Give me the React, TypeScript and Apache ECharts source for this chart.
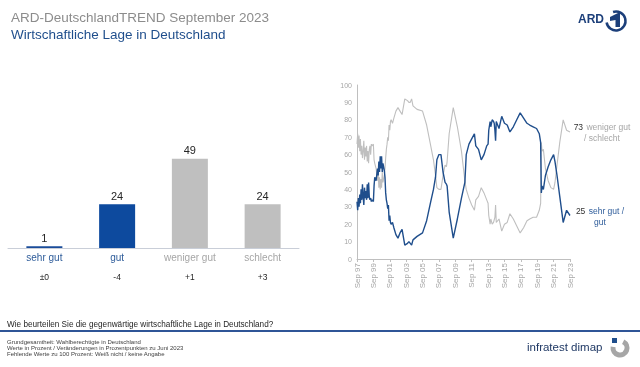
import React, { useEffect, useRef } from "react";
import * as echarts from "echarts";

const barCategories = ["sehr gut", "gut", "weniger gut", "schlecht"];
const barValues = [1, 24, 49, 24];
const barChanges = ["±0", "-4", "+1", "+3"];
const barColors = ["#1A4C9A", "#0D4A9E", "#BFBFBF", "#BFBFBF"];
const barLabelColors = ["blue", "blue", "gray", "gray"];

// months since Sep 1997
const months = [
  0, 1, 2, 3, 4, 5, 6, 7, 8, 9, 10, 11, 12, 13, 14, 15, 16, 17, 18, 19, 20, 21, 22, 24, 25, 26, 28, 30, 31, 32,
  33, 34, 35, 36, 37, 38, 40, 41, 42, 43, 44, 45, 46, 47, 48, 49, 50, 52, 54, 57, 60, 63, 66, 70, 74, 76, 78, 80,
  82, 88, 96, 102, 108, 112, 115, 117, 120, 123, 126, 129, 131, 132, 135, 141, 147, 153, 158, 160, 164, 168, 172,
  174, 178, 182, 186, 190, 192, 193, 195, 196, 198, 200, 201, 202, 203, 204, 206, 208, 212, 216, 220, 224, 229,
  234, 239, 244, 249, 253, 258, 263, 267, 269, 270, 271, 273, 276, 280, 284, 288, 290, 293, 297, 302, 307, 312,
];
const gutValues = [
  33, 28, 35, 30, 37, 32, 40, 34, 43, 36, 31, 41, 35, 39, 34, 43, 35, 44, 36, 34, 35, 33, 34, 33, 42, 47, 45, 52, 48, 56,
  50, 59, 52, 59, 50, 55, 51, 47, 38, 34, 32, 29, 31, 22, 25, 21, 20, 21, 18, 14, 12, 15, 17, 8, 9, 10, 9, 8,
  11, 13, 15, 22, 33, 40, 47, 57, 60, 60, 50, 44, 43, 42, 27, 12, 23, 35, 44, 60, 66, 69, 72,
  65, 63, 57, 60, 65, 66, 74, 79, 76, 80, 79, 78, 74, 68, 79, 77, 75, 82, 78, 77, 73, 76,
  80, 84, 81, 78, 77, 76, 75, 72, 67, 38, 42, 40, 48, 53, 57, 60, 56, 48, 36, 21, 28, 25,
];
const schlechtValues = [
  66, 72, 64, 71, 62, 69, 60, 65, 58, 62, 68, 57, 64, 59, 65, 56, 62, 55, 63, 65, 60, 66, 65, 66, 57, 55, 52, 45, 50, 41,
  47, 40, 46, 41, 50, 44, 48, 52, 58, 63, 66, 70, 68, 77, 74, 79, 80, 78, 81, 85, 87, 85, 83, 92, 91, 90, 90, 92,
  88, 86, 85, 77, 65, 57, 48, 41, 40, 40, 48, 54, 53, 56, 72, 87, 76, 62, 45, 40, 35, 31, 28,
  34, 36, 41, 38, 34, 32, 25, 20, 23, 20, 21, 21, 24, 31, 21, 22, 23, 16, 20, 21, 26, 23,
  19, 15, 18, 22, 23, 24, 24, 28, 32, 67, 62, 63, 52, 45, 41, 40, 44, 54, 67, 80, 74, 73,
];
const lineTickLabels = [
  "Sep 97", "Sep 99", "Sep 01", "Sep 03", "Sep 05", "Sep 07", "Sep 09",
  "Sep 11", "Sep 13", "Sep 15", "Sep 17", "Sep 19", "Sep 21", "Sep 23",
];
const footerLines = [
  "Grundgesamtheit: Wahlberechtigte in Deutschland",
  "Werte in Prozent / Veränderungen in Prozentpunkten zu Juni 2023",
  "Fehlende Werte zu 100 Prozent: Weiß nicht / keine Angabe",
];

const FONT = "'Liberation Sans', Arial, sans-serif";

export default function App() {
  const ref = useRef<HTMLDivElement>(null);
  useEffect(() => {
    if (!ref.current) return;
    const chart = echarts.init(ref.current, undefined, { renderer: "svg" });
    const gutData = months.map((m, i) => [m, gutValues[i]]);
    const schlechtData = months.map((m, i) => [m, schlechtValues[i]]);
    const lastGut = gutValues[gutValues.length - 1];
    const lastSchlecht = schlechtValues[schlechtValues.length - 1];
    chart.setOption({
      animation: false,
      textStyle: { fontFamily: FONT },
      title: [
        {
          text: "ARD-DeutschlandTREND September 2023",
          left: 6,
          top: 5,
          textStyle: { fontSize: 13.5, fontWeight: "normal", color: "#8C8C8C", fontFamily: FONT },
        },
        {
          text: "Wirtschaftliche Lage in Deutschland",
          left: 6,
          top: 22,
          textStyle: { fontSize: 13.5, fontWeight: "normal", color: "#1F4E8C", fontFamily: FONT },
        },
      ],
      grid: [
        { left: 8, top: 157, width: 291, height: 91 },
        { left: 357, top: 85, width: 213, height: 174 },
      ],
      xAxis: [
        {
          type: "category",
          gridIndex: 0,
          data: barCategories,
          axisLine: { lineStyle: { color: "#C9CED8", width: 1 } },
          axisTick: { show: false },
          axisLabel: {
            margin: 4,
            interval: 0,
            formatter: (v: string, i: number) => `{${barLabelColors[i]}|${v}}`,
            rich: {
              blue: { color: "#2E5C9A", fontSize: 10, fontFamily: FONT },
              gray: { color: "#A6A6A6", fontSize: 10, fontFamily: FONT },
            },
          },
        },
        {
          type: "category",
          gridIndex: 0,
          position: "bottom",
          offset: 16,
          data: barChanges,
          axisLine: { show: false },
          axisTick: { show: false },
          axisLabel: { interval: 0, color: "#262626", fontSize: 8.5, fontFamily: FONT },
        },
        {
          type: "value",
          gridIndex: 1,
          min: 0,
          max: 312,
          interval: 24,
          splitLine: { show: false },
          axisLine: { lineStyle: { color: "#BFBFBF" } },
          axisTick: { show: true, length: 3, lineStyle: { color: "#BFBFBF" } },
          axisLabel: {
            rotate: 90,
            margin: 4,
            fontSize: 8,
            color: "#A6A6A6",
            fontFamily: FONT,
            formatter: (v: number) => lineTickLabels[Math.round(v / 24)] ?? "",
          },
        },
      ],
      yAxis: [
        {
          type: "value",
          gridIndex: 0,
          min: 0,
          max: 50,
          show: false,
        },
        {
          type: "value",
          gridIndex: 1,
          min: 0,
          max: 100,
          interval: 10,
          splitLine: { show: false },
          axisLine: { show: true, lineStyle: { color: "#BFBFBF" } },
          axisTick: { show: false },
          axisLabel: { fontSize: 7, color: "#A6A6A6", margin: 5, fontFamily: FONT },
        },
      ],
      series: [
        {
          type: "bar",
          xAxisIndex: 0,
          yAxisIndex: 0,
          barWidth: 36,
          data: barValues.map((v, i) => ({ value: v, itemStyle: { color: barColors[i] } })),
          label: { show: true, position: "top", distance: 3, color: "#262626", fontSize: 11, fontFamily: FONT },
        },
        {
          type: "line",
          xAxisIndex: 2,
          yAxisIndex: 1,
          data: schlechtData,
          symbol: "none",
          lineStyle: { color: "#BFBFBF", width: 1.1 },
          endLabel: {
            show: true,
            distance: 32,
            align: "center",
            formatter: () => `{v|${lastSchlecht}} {t|weniger gut}\n{t|/ schlecht}`,
            rich: {
              v: { color: "#333333", fontSize: 8.5, fontFamily: FONT, lineHeight: 10 },
              t: { color: "#A6A6A6", fontSize: 8.5, fontFamily: FONT, lineHeight: 10 },
            },
          },
        },
        {
          type: "line",
          xAxisIndex: 2,
          yAxisIndex: 1,
          data: gutData,
          symbol: "none",
          lineStyle: { color: "#1F4E8C", width: 1.4 },
          endLabel: {
            show: true,
            distance: 30,
            align: "center",
            formatter: () => `{v|${lastGut}} {t|sehr gut /}\n{t|gut}`,
            rich: {
              v: { color: "#333333", fontSize: 8.5, fontFamily: FONT, lineHeight: 10 },
              t: { color: "#2E5C9A", fontSize: 8.5, fontFamily: FONT, lineHeight: 10 },
            },
          },
        },
      ],
      graphic: [
        // ARD logo
        {
          type: "text",
          x: 578,
          y: 19,
          style: { text: "ARD", fontSize: 12, fontWeight: "bold", fill: "#1C3F7A", fontFamily: FONT, verticalAlign: "middle" },
        },
        {
          type: "arc",
          shape: { cx: 616, cy: 21, r: 9.5, startAngle: -Math.PI * 0.6, endAngle: Math.PI * 0.95, clockwise: true },
          style: { stroke: "#1C3F7A", lineWidth: 2.5, fill: "none" },
        },
        {
          type: "polygon",
          shape: { points: [[610, 17], [618, 13], [620, 13], [620, 27], [615.5, 27], [615.5, 20], [610, 21]] },
          style: { fill: "#1C3F7A" },
        },
        // question
        {
          type: "text",
          x: 7,
          y: 324,
          style: {
            text: "Wie beurteilen Sie die gegenwärtige wirtschaftliche Lage in Deutschland?",
            fontSize: 8.2,
            fill: "#262626",
            fontFamily: FONT,
            verticalAlign: "middle",
          },
        },
        {
          type: "line",
          shape: { x1: 0, y1: 331, x2: 640, y2: 331 },
          style: { stroke: "#2F5597", lineWidth: 2 },
        },
        ...footerLines.map((t, i) => ({
          type: "text",
          x: 7,
          y: 342 + i * 5.8,
          style: { text: t, fontSize: 6, fill: "#404040", fontFamily: FONT, verticalAlign: "middle" },
        })),
        // infratest dimap
        {
          type: "text",
          x: 527,
          y: 347,
          style: { text: "infratest dimap", fontSize: 11.5, fontWeight: 500, fill: "#1F3864", fontFamily: FONT, verticalAlign: "middle" },
        },
        {
          type: "arc",
          shape: { cx: 620, cy: 348, r: 7, startAngle: -Math.PI * 0.35, endAngle: Math.PI * 1.05, clockwise: true },
          style: { stroke: "#A6A6A6", lineWidth: 5, fill: "none" },
        },
        {
          type: "rect",
          shape: { x: 612, y: 338, width: 5, height: 5 },
          style: { fill: "#1F4E8C" },
        },
      ],
    });
    return () => chart.dispose();
  }, []);
  return <div ref={ref} style={{ position: "fixed", left: 0, top: 0, width: 640, height: 367 }} />;
}
